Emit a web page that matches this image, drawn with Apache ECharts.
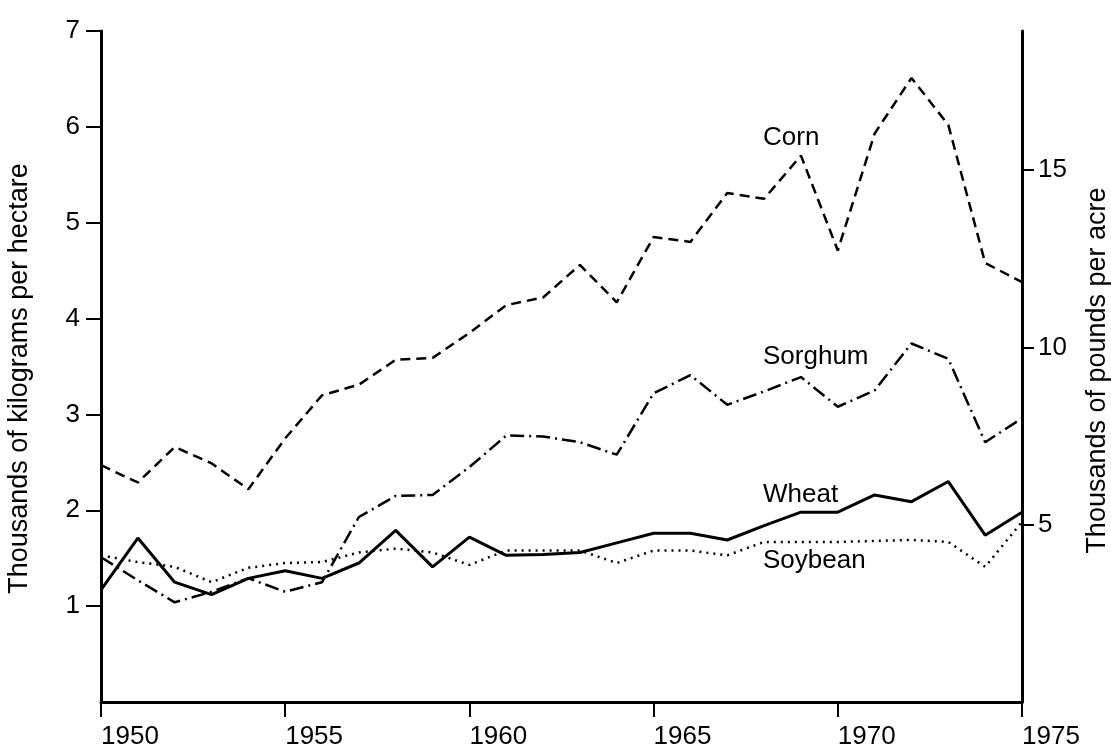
<!DOCTYPE html>
<html>
<head>
<meta charset="utf-8">
<script src="https://cdn.jsdelivr.net/npm/echarts@6/dist/echarts.min.js"></script>
<style>
  html, body { margin: 0; padding: 0; background: #fff; }
  #chart { width: 1111px; height: 749px; }
</style>
</head>
<body>
<div id="chart"></div>
<script>
// 年份
const years = [1950, 1951, 1952, 1953, 1954, 1955, 1956, 1957, 1958, 1959, 1960, 1961, 1962,
  1963, 1964, 1965, 1966, 1967, 1968, 1969, 1970, 1971, 1972, 1973, 1974, 1975];

// 单产 (千公斤/公顷)
const corn = [2.47, 2.29, 2.66, 2.49, 2.22, 2.75, 3.2, 3.31, 3.57, 3.59, 3.85, 4.14, 4.22,
  4.56, 4.17, 4.85, 4.8, 5.31, 5.25, 5.7, 4.71, 5.93, 6.51, 6.02, 4.58, 4.38];
const sorghum = [1.51, 1.27, 1.04, 1.15, 1.29, 1.15, 1.25, 1.93, 2.15, 2.16, 2.45, 2.78, 2.77,
  2.71, 2.58, 3.22, 3.41, 3.1, 3.24, 3.39, 3.08, 3.25, 3.74, 3.58, 2.71, 2.96];
const wheat = [1.17, 1.71, 1.25, 1.12, 1.29, 1.37, 1.29, 1.45, 1.79, 1.41, 1.72, 1.53, 1.54,
  1.56, 1.66, 1.76, 1.76, 1.69, 1.84, 1.98, 1.98, 2.16, 2.09, 2.3, 1.74, 1.98];
const soybean = [1.53, 1.46, 1.41, 1.25, 1.4, 1.45, 1.46, 1.56, 1.6, 1.56, 1.43, 1.58, 1.58,
  1.58, 1.45, 1.58, 1.58, 1.53, 1.67, 1.67, 1.67, 1.68, 1.69, 1.67, 1.41, 1.88];

// 曲线名称标注的位置 [年份, 数值]
const labelAt = {
  Corn: [1967.97, 5.89],
  Sorghum: [1967.97, 3.6],
  Wheat: [1967.97, 2.16],
  Soybean: [1967.97, 1.47],
};

// 右轴刻度 (千磅/英亩)
const rightTicks = [5, 10, 15];
const lbPerKg = 2.703; // 右轴与左轴的比例

const font = 'Liberation Sans, Arial, Helvetica, sans-serif';

const pairs = (arr) => arr.map((v, i) => [years[i], v]);

const makeSeries = (name, arr, lineType, width) => ({
  name: name,
  type: 'line',
  symbol: 'none',
  data: pairs(arr),
  lineStyle: { color: '#000', width: width, type: lineType },
  markPoint: {
    symbol: 'circle',
    symbolSize: 0,
    silent: true,
    label: {
      show: true,
      position: 'right',
      distance: 0,
      color: '#000',
      fontFamily: font,
      fontSize: 26,
      formatter: name,
    },
    data: [{ coord: labelAt[name] }],
  },
});

const chart = echarts.init(document.getElementById('chart'));
const option = {
  backgroundColor: '#fff',
  animation: false,
  grid: { left: 101, right: 89, top: 31, bottom: 47, outerBoundsMode: 'none', containLabel: false },
  xAxis: {
    type: 'value',
    min: 1950,
    max: 1975,
    interval: 5,
    axisLine: { show: true, lineStyle: { color: '#000', width: 3 } },
    axisTick: { show: true, length: 15, lineStyle: { color: '#000', width: 2 } },
    splitLine: { show: false },
    axisLabel: {
      align: 'left',
      margin: 22,
      color: '#000',
      fontFamily: font,
      fontSize: 26,
      formatter: (v) => String(v),
    },
  },
  yAxis: [
    {
      type: 'value',
      position: 'left',
      min: 0,
      max: 7,
      interval: 1,
      name: 'Thousands of kilograms per hectare',
      nameLocation: 'middle',
      nameGap: 68,
      nameRotate: 90,
      nameTextStyle: { color: '#000', fontFamily: font, fontSize: 27, padding: [0, 24, 0, 0] },
      axisLine: { show: true, lineStyle: { color: '#000', width: 3 } },
      axisTick: { show: true, length: 15, lineStyle: { color: '#000', width: 2 } },
      splitLine: { show: false },
      axisLabel: {
        showMinLabel: false,
        margin: 21,
        color: '#000',
        fontFamily: font,
        fontSize: 26,
      },
    },
    {
      type: 'value',
      position: 'right',
      min: 0,
      max: 7 * lbPerKg,
      name: 'Thousands of pounds per acre',
      nameLocation: 'middle',
      nameGap: 62,
      nameRotate: 90,
      nameTextStyle: { color: '#000', fontFamily: font, fontSize: 27, padding: [0, 8, 0, 0] },
      axisLine: { show: true, lineStyle: { color: '#000', width: 3 } },
      axisTick: { show: true, length: 12, customValues: rightTicks, lineStyle: { color: '#000', width: 2 } },
      splitLine: { show: false },
      axisLabel: {
        customValues: rightTicks,
        margin: 16,
        color: '#000',
        fontFamily: font,
        fontSize: 26,
      },
    },
  ],
  series: [
    makeSeries('Corn', corn, [10, 6], 2.5),
    makeSeries('Sorghum', sorghum, [14, 5, 2, 5], 2.5),
    makeSeries('Wheat', wheat, 'solid', 3),
    makeSeries('Soybean', soybean, [2, 5], 2.5),
  ],
};
chart.setOption(option);
</script>
</body>
</html>
